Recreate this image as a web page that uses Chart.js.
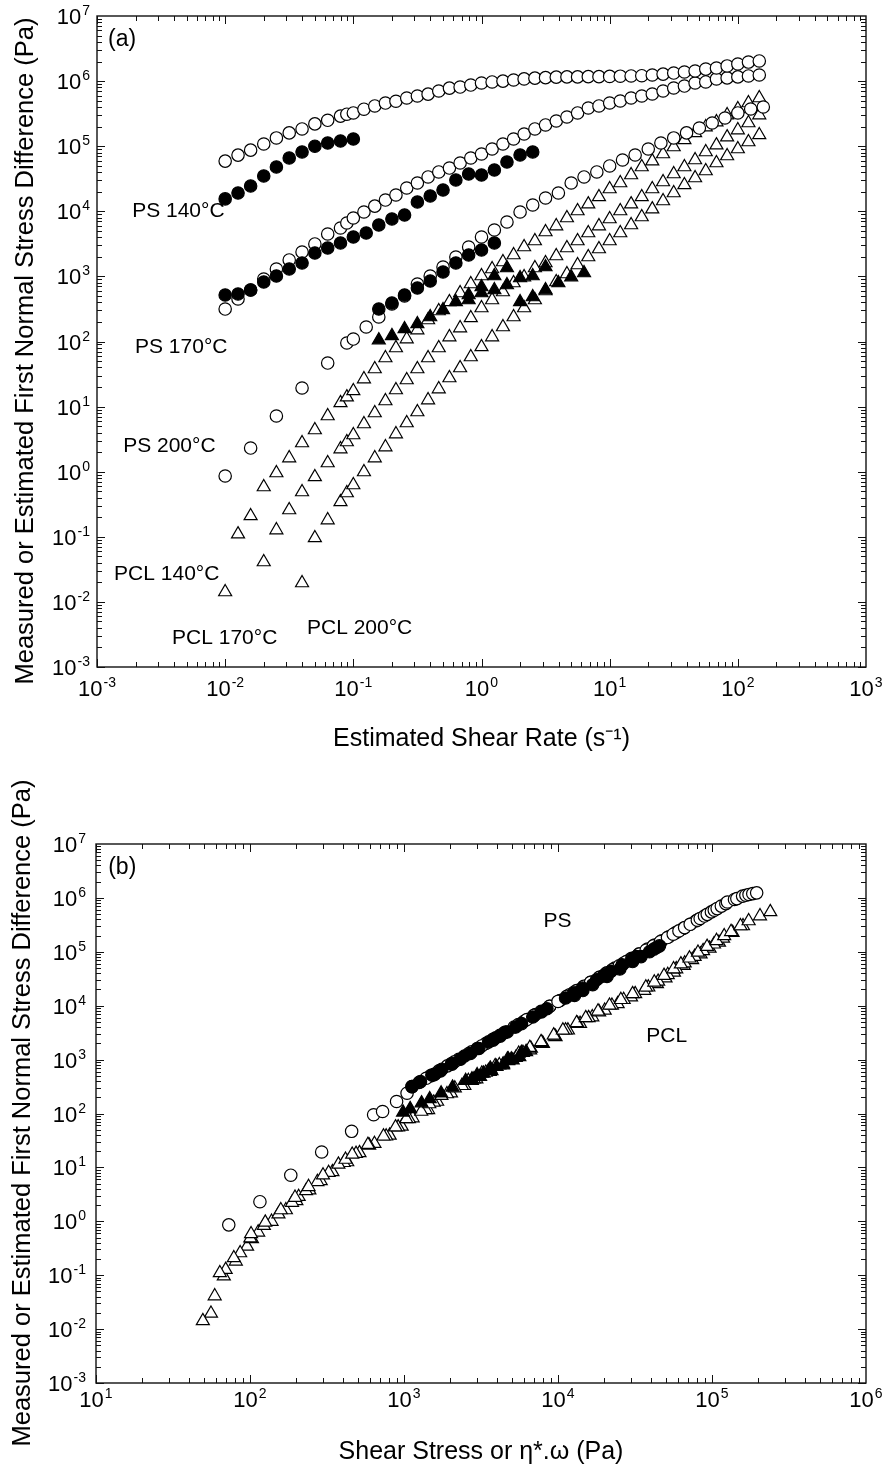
<!DOCTYPE html>
<html>
<head>
<meta charset="utf-8">
<script src="https://cdn.jsdelivr.net/npm/chart.js"></script>
<style>
  body { margin: 0; background: #fff; }
  canvas { display: block; }
</style>
</head>
<body>
<canvas id="rateChart" width="883" height="770"></canvas>
<canvas id="stressChart" width="883" height="699"></canvas>
<script>
// ---- (a) shear rate grid (s^-1), shared by the long series ----
const rateA = [0.01, 0.0126, 0.0158, 0.02, 0.0251, 0.0316, 0.0398, 0.0501, 0.0631, 0.0794, 0.089, 0.1,
  0.121, 0.147, 0.178, 0.215, 0.261, 0.316, 0.383, 0.464, 0.562, 0.681, 0.825, 1.0,
  1.21, 1.47, 1.78, 2.15, 2.61, 3.16, 3.83, 4.64, 5.62, 6.81, 8.25, 10,
  12.1, 14.7, 17.8, 21.5, 26.1, 31.6, 38.3, 46.4, 56.2, 68.1, 82.5, 100, 121, 147];
const rateTenth = [0.01, 0.0126, 0.0158, 0.02, 0.0251, 0.0316, 0.0398, 0.0501, 0.0631, 0.0794, 0.1,
  0.126, 0.158, 0.2, 0.251, 0.316, 0.398, 0.501, 0.631, 0.794, 1.0, 1.26, 1.58, 2.0, 2.51];
const ps200Rate = [0.01, 0.0158, 0.0251, 0.0398, 0.0631, 0.089, 0.1, 0.126, 0.158, 0.2, 0.251, 0.316, 0.398,
  0.501, 0.631, 0.794, 1.0, 1.26, 1.58, 2.0, 2.51, 3.16, 3.98, 5.01, 6.31, 7.94, 10, 12.6, 15.8, 20, 25.1,
  31.6, 39.8, 50.1, 63.1, 79.4, 100, 126, 158];
const ps140FilledRate = [0.01, 0.0126, 0.0158, 0.02, 0.0251, 0.0316, 0.0398, 0.0501, 0.0631, 0.0794, 0.1];
const ps200FilledRate = [0.158, 0.2, 0.251, 0.316, 0.398, 0.501, 0.631, 0.794, 1.0, 1.26];
const pcl140FilledRate = [0.158, 0.2, 0.251, 0.316, 0.398, 0.501, 0.631, 0.794, 1.0, 1.26, 1.58];
const pcl170FilledRate = [0.794, 1.0, 1.26, 1.58, 2.0, 2.51, 3.16];
const pcl200FilledRate = [2.0, 2.51, 3.16, 3.98, 5.01, 6.31];

// ---- first normal stress difference N1 (Pa) ----
const ps140Open = [5.9e4, 7.3e4, 8.7e4, 1.08e5, 1.34e5, 1.6e5, 1.84e5, 2.2e5, 2.5e5, 2.9e5, 3.1e5, 3.24e5,
  3.7e5, 4.15e5, 4.6e5, 4.9e5, 5.5e5, 5.9e5, 6.3e5, 7.05e5, 7.8e5, 8.1e5, 8.7e5, 9.35e5,
  9.7e5, 1.0e6, 1.04e6, 1.08e6, 1.11e6, 1.13e6, 1.15e6, 1.16e6, 1.16e6, 1.17e6, 1.17e6, 1.18e6,
  1.19e6, 1.2e6, 1.21e6, 1.24e6, 1.28e6, 1.33e6, 1.38e6, 1.43e6, 1.53e6, 1.59e6, 1.71e6, 1.83e6, 1.96e6, 2.04e6];
const ps140Filled = [1.55e4, 1.91e4, 2.45e4, 3.49e4, 4.8e4, 6.6e4, 8.15e4, 1.0e5, 1.12e5, 1.2e5, 1.29e5];
const ps170Open = [315, 450, 618, 912, 1300, 1790, 2370, 3150, 4480, 5540, 6610, 7890,
  9750, 1.2e4, 1.49e4, 1.78e4, 2.28e4, 2.72e4, 3.37e4, 4.02e4, 4.62e4, 5.52e4, 6.59e4, 7.59e4,
  9.06e4, 1.08e5, 1.29e5, 1.54e5, 1.84e5, 2.12e5, 2.44e5, 2.81e5, 3.24e5, 3.86e5, 4.15e5, 4.61e5,
  4.95e5, 5.5e5, 5.9e5, 6.34e5, 7.05e5, 7.83e5, 8.4e5, 9.35e5, 9.7e5, 1.08e6, 1.12e6, 1.16e6, 1.2e6, 1.24e6];
const ps170Filled = [518, 537, 618, 820, 1014, 1300, 1607, 2287, 2730, 3260, 4030, 4640, 6160,
  7620, 8770, 1.39e4, 1.72e4, 2.12e4, 3.03e4, 3.74e4, 3.61e4, 4.31e4, 5.72e4, 7.33e4, 8.15e4];
const ps200Open = [0.859, 2.31, 7.17, 19.3, 46.7, 94.9, 109, 167, 238, 377, 500, 764, 1014,
  1394, 1986, 2830, 4030, 5160, 6850, 9750, 1.25e4, 1.6e4, 1.91e4, 2.72e4, 3.37e4, 4.02e4, 4.97e4,
  6.14e4, 7.33e4, 9.06e4, 1.12e5, 1.34e5, 1.6e5, 1.9e5, 2.27e5, 2.71e5, 3.24e5, 3.73e5, 4.0e5];
const ps200Filled = [315, 390, 518, 663, 849, 1169, 1607, 2133, 2545, 3260];
const pcl140Open = [0.0142, 0.11, 0.209, 0.582, 0.955, 1.62, 2.76, 4.37, 7.17, 11.4, 14.0, 17.4,
  26.5, 37.8, 55.8, 79.4, 109, 150, 214, 294, 405, 556, 764, 1014,
  1300, 1664, 2133, 2830, 3500, 4810, 5940, 7890, 1.01e4, 1.29e4, 1.66e4, 2.2e4,
  2.72e4, 3.61e4, 4.79e4, 5.9e4, 7.59e4, 9.72e4, 1.25e5, 1.6e5, 1.97e5, 2.35e5, 3.01e5, 3.73e5, 4.61e5, 5.5e5];
const pcl170Open = [0.041, 0.127, 0.258, 0.488, 0.83, 1.36, 2.23, 2.86, 3.66,
  5.4, 7.98, 12.2, 18.0, 25.6, 37.8, 55.8, 79.4, 117, 161, 230, 327,
  434, 576, 792, 977, 1346, 1607, 2056, 2730, 3500, 4640, 5940, 7620,
  1.01e4, 1.29e4, 1.66e4, 2.2e4, 2.82e4, 3.74e4, 4.79e4, 6.14e4, 8.15e4, 1.04e5, 1.38e5, 1.77e5, 2.27e5, 3.01e5];
const pcl200Open = [0.0195, 0.096, 0.181, 0.343, 0.471, 0.625,
  0.99, 1.62, 2.39, 3.79, 5.6, 8.26, 12.6, 18.6, 27.5, 39.2, 57.8, 82.4,
  117, 167, 238, 327, 434, 597, 820, 1089, 1496, 1986, 2636, 3500,
  4640, 6160, 8170, 1.08e4, 1.44e4, 1.91e4, 2.54e4, 3.25e4, 4.16e4, 5.52e4, 7.07e4, 9.06e4, 1.16e5, 1.49e5];
const pcl140Filled = [105, 122, 156, 186, 238, 305, 405, 518, 687, 1014, 1346];
const pcl170Filled = [434, 556, 618, 738, 945, 1014, 1394];
const pcl200Filled = [405, 483, 618, 792, 977, 1127];

// ---- (b) shear stress or eta*.omega (Pa) for the same points ----
const ps170OpenStress = [1127, 1394, 1687, 2128, 2636, 3189, 3776, 4477, 5534, 6281, 6982, 7776,
  8831, 1.0e4, 1.14e4, 1.27e4, 1.47e4, 1.63e4, 1.86e4, 2.07e4, 2.25e4, 2.5e4, 2.78e4, 3.02e4,
  3.36e4, 3.74e4, 4.16e4, 4.62e4, 5.14e4, 5.6e4, 6.1e4, 6.64e4, 7.22e4, 8.03e4, 8.38e4, 8.93e4,
  9.31e4, 9.91e4, 1.035e5, 1.08e5, 1.15e5, 1.23e5, 1.26e5, 1.4e5, 1.45e5, 1.58e5, 1.66e5, 1.74e5, 1.84e5, 1.95e5];
const ps200OpenStress = [72.8, 116, 184, 292, 457, 635, 726, 895, 1047, 1253, 1486, 1915, 2270,
  2748, 3399, 4205, 5193, 6026, 7145, 8831, 1.03e4, 1.19e4, 1.32e4, 1.63e4, 1.86e4, 2.07e4, 2.34e4,
  2.66e4, 2.96e4, 3.36e4, 3.82e4, 4.25e4, 4.72e4, 5.25e4, 5.83e4, 6.49e4, 7.22e4, 7.85e4, 8.2e4];
const ps140FilledStress = [1.28e4, 1.45e4, 1.68e4, 2.08e4, 2.52e4, 3.05e4, 3.46e4, 3.93e4, 4.19e4, 4.37e4, 4.56e4];
const ps170FilledStress = [1552, 1585, 1726, 2046, 2323, 2698, 3062, 3784, 4207, 4677, 5309, 5794, 6855,
  7798, 8472, 1.12e4, 1.27e4, 1.44e4, 1.78e4, 2.02e4, 1.98e4, 2.2e4, 2.61e4, 3.03e4, 3.23e4];
const ps200FilledStress = [1127, 1279, 1517, 1762, 2042, 2472, 2992, 3548, 3945, 4571];
const pcl140OpenStress = [49.4, 63.7, 78.5, 101.6, 125.6, 158.5, 196, 240, 298, 375, 417, 461,
  583, 736, 881, 1035, 1294, 1459, 1750, 2138, 2618, 3199, 3908, 4699,
  5559, 6561, 7762, 9376, 1.076e4, 1.321e4, 1.514e4, 1.82e4, 2.16e4, 2.56e4, 3.05e4, 3.72e4,
  4.22e4, 4.88e4, 5.63e4, 6.28e4, 7.14e4, 8.11e4, 9.29e4, 1.07e5, 1.2e5, 1.33e5, 1.53e5, 1.73e5, 2.05e5, 2.39e5];
const pcl170OpenStress = [59, 69.5, 86.3, 100.5, 123, 153, 187.5, 207, 231,
  274, 324, 406, 488, 594, 766, 916, 1076, 1384, 1560, 1901, 2377,
  2844, 3396, 4159, 4775, 5916, 6668, 7870, 9528, 1.12e4, 1.34e4, 1.58e4, 1.85e4,
  2.24e4, 2.67e4, 3.17e4, 3.86e4, 4.47e4, 5.16e4, 5.86e4, 6.65e4, 7.71e4, 8.75e4, 1.03e5, 1.18e5, 1.36e5, 1.59e5];
const pcl200OpenStress = [55.8, 67.6, 80.9, 95.7, 103, 113,
  138, 171, 200, 243, 288, 343, 428, 514, 643, 807, 966, 1138,
  1435, 1641, 2018, 2466, 2951, 3606, 4406, 5321, 6592, 7980, 9638, 1.16e4,
  1.39e4, 1.67e4, 2.01e4, 2.44e4, 2.98e4, 3.63e4, 4.39e4, 4.99e4, 5.66e4, 6.55e4, 7.43e4, 8.43e4, 9.64e4, 1.11e5];
const pcl140FilledStress = [986, 1096, 1300, 1469, 1742, 2065, 2515, 2985, 3631, 4753, 5781];
const pcl170FilledStress = [2761, 3281, 3532, 3990, 4742, 4977, 6209];
const pcl200FilledStress = [2761, 3119, 3698, 4395, 5082, 5610];

// axis decades
const rateTicks = [1e-3, 1e-2, 1e-1, 1, 10, 100, 1000];
const stressTicks = [10, 100, 1e3, 1e4, 1e5, 1e6];
const n1Ticks = [1e-3, 1e-2, 1e-1, 1, 10, 100, 1e3, 1e4, 1e5, 1e6, 1e7];

const yTitle = 'Measured or Estimated First Normal Stress Difference (Pa)';

// text labels inside the plots (data coordinates)
const notesA = [
  { text: '(a)', x: 0.00122, y: 4.4e6, big: true },
  { text: 'PS 140°C', x: 0.00188, y: 1e4 },
  { text: 'PS 170°C', x: 0.00198, y: 82 },
  { text: 'PS 200°C', x: 0.0016, y: 2.48 },
  { text: 'PCL 140°C', x: 0.00136, y: 0.027 },
  { text: 'PCL 170°C', x: 0.00385, y: 0.0028 },
  { text: 'PCL 200°C', x: 0.0435, y: 0.004 },
];
const notesB = [
  { text: '(b)', x: 12, y: 3.6e6, big: true },
  { text: 'PS', x: 8040, y: 3.7e5 },
  { text: 'PCL', x: 3.74e4, y: 2740 },
];

const FONT = '"Liberation Sans", Arial, Helvetica, sans-serif';
Chart.defaults.font.family = FONT;
Chart.defaults.color = '#000';

function exponentOf(v) {
  return String(Math.round(Math.log10(v)));
}

function pts(xs, ys) {
  return xs.map((x, i) => ({ x: x, y: ys[i] }));
}

function series(label, xs, ys, shape, filled) {
  return {
    label: label,
    data: pts(xs, ys),
    pointStyle: shape,
    pointRadius: shape === 'triangle' ? 7.5 : 6.2,
    pointBorderWidth: 1.2,
    pointBorderColor: '#000',
    pointBackgroundColor: filled ? '#000' : '#fff',
    order: filled ? 0 : 1,
  };
}

// box with inward major/minor ticks on all four sides
const frameTicks = {
  id: 'frameTicks',
  afterDatasetsDraw(chart) {
    const { ctx, chartArea: a, scales } = chart;
    const x = scales.x, y = scales.y;
    ctx.save();
    ctx.strokeStyle = '#111';
    ctx.lineWidth = 1;
    ctx.beginPath();
    for (let e = Math.round(Math.log10(x.min)); e < Math.round(Math.log10(x.max)); e++) {
      for (let k = 1; k <= 9; k++) {
        const px = Math.round(x.getPixelForValue(k * Math.pow(10, e))) + 0.5;
        const len = k === 1 ? 8 : 5;
        ctx.moveTo(px, a.top); ctx.lineTo(px, a.top + len);
        ctx.moveTo(px, a.bottom); ctx.lineTo(px, a.bottom - len);
      }
    }
    for (let e = Math.round(Math.log10(y.min)); e < Math.round(Math.log10(y.max)); e++) {
      for (let k = 1; k <= 9; k++) {
        const py = Math.round(y.getPixelForValue(k * Math.pow(10, e))) + 0.5;
        const len = k === 1 ? 8 : 5;
        ctx.moveTo(a.left, py); ctx.lineTo(a.left + len, py);
        ctx.moveTo(a.right, py); ctx.lineTo(a.right - len, py);
      }
    }
    ctx.stroke();
    ctx.lineWidth = 1.4;
    ctx.strokeRect(a.left, a.top, a.right - a.left, a.bottom - a.top);
    ctx.restore();
  }
};

// decade labels "10" with a raised exponent
function drawPower(ctx, v, x, baseline, align) {
  const exp = exponentOf(v);
  ctx.font = '22px ' + FONT;
  const wMain = ctx.measureText('10').width;
  ctx.font = '14px ' + FONT;
  const wExp = ctx.measureText(exp).width;
  const total = wMain + wExp + 1;
  const left = align === 'right' ? x - total : x - total / 2;
  ctx.textAlign = 'left';
  ctx.textBaseline = 'alphabetic';
  ctx.font = '22px ' + FONT;
  ctx.fillText('10', left, baseline);
  ctx.font = '14px ' + FONT;
  ctx.fillText(exp, left + wMain + 1, baseline - 9);
}

// plot labels, tick labels and rotated y title (Chart.js would squeeze it to the axis height)
const textLayer = {
  id: 'textLayer',
  afterDraw(chart, args, opts) {
    const { ctx, chartArea: a, scales } = chart;
    ctx.save();
    ctx.fillStyle = '#000';
    scales.x.ticks.forEach(t => {
      drawPower(ctx, t.value, scales.x.getPixelForValue(t.value), a.bottom + opts.xLabelGap, 'center');
    });
    scales.y.ticks.forEach(t => {
      drawPower(ctx, t.value, a.left - opts.yLabelGap, scales.y.getPixelForValue(t.value) + 8, 'right');
    });
    ctx.textBaseline = 'middle';
    ctx.textAlign = 'left';
    opts.notes.forEach(n => {
      ctx.font = (n.big ? 23 : 21) + 'px ' + FONT;
      ctx.fillText(n.text, scales.x.getPixelForValue(n.x), scales.y.getPixelForValue(n.y));
    });
    ctx.translate(opts.titleX, opts.titleY);
    ctx.rotate(-Math.PI / 2);
    ctx.textAlign = 'center';
    ctx.font = '25.5px ' + FONT;
    ctx.fillText(yTitle, 0, 0);
    ctx.restore();
  }
};

function logAxis(min, max, ticks, fitSize, horizontal, title, titlePad) {
  const ax = {
    type: 'logarithmic',
    min: min,
    max: max,
    position: horizontal ? 'bottom' : 'left',
    afterBuildTicks: s => { s.ticks = ticks.map(v => ({ value: v })); },
    afterFit: s => { if (horizontal) s.height = fitSize; else s.width = fitSize; },
    grid: { display: false, drawTicks: false },
    border: { display: false },
    ticks: { display: false, autoSkip: false },
  };
  if (title) {
    ax.title = { display: true, text: title, font: { size: 25 }, padding: { top: 0, bottom: titlePad } };
  }
  return ax;
}

new Chart(document.getElementById('rateChart'), {
  type: 'scatter',
  data: {
    datasets: [
      series('PS 140 open', rateA, ps140Open, 'circle', false),
      series('PS 170 open', rateA, ps170Open, 'circle', false),
      series('PS 200 open', ps200Rate, ps200Open, 'circle', false),
      series('PCL 140 open', rateA, pcl140Open, 'triangle', false),
      series('PCL 170 open', rateA.slice(3), pcl170Open, 'triangle', false),
      series('PCL 200 open', rateA.slice(6), pcl200Open, 'triangle', false),
      series('PS 140 filled', ps140FilledRate, ps140Filled, 'circle', true),
      series('PS 170 filled', rateTenth, ps170Filled, 'circle', true),
      series('PS 200 filled', ps200FilledRate, ps200Filled, 'circle', true),
      series('PCL 140 filled', pcl140FilledRate, pcl140Filled, 'triangle', true),
      series('PCL 170 filled', pcl170FilledRate, pcl170Filled, 'triangle', true),
      series('PCL 200 filled', pcl200FilledRate, pcl200Filled, 'triangle', true),
    ]
  },
  options: {
    responsive: false,
    animation: false,
    events: [],
    layout: { padding: { top: 16, right: 17, left: 0, bottom: 0 } },
    scales: {
      x: logAxis(1e-3, 1e3, rateTicks, 103, true, 'Estimated Shear Rate (s\u207B\u00B9)', 16),
      y: logAxis(1e-3, 1e7, n1Ticks, 97, false),
    },
    plugins: {
      legend: { display: false },
      tooltip: { enabled: false },
      textLayer: { notes: notesA, titleX: 26, titleY: 351, xLabelGap: 29, yLabelGap: 7 },
    }
  },
  plugins: [frameTicks, textLayer]
});

new Chart(document.getElementById('stressChart'), {
  type: 'scatter',
  data: {
    datasets: [
      series('PS 170 open', ps170OpenStress, ps170Open, 'circle', false),
      series('PS 200 open', ps200OpenStress, ps200Open, 'circle', false),
      series('PCL 140 open', pcl140OpenStress, pcl140Open, 'triangle', false),
      series('PCL 170 open', pcl170OpenStress, pcl170Open, 'triangle', false),
      series('PCL 200 open', pcl200OpenStress, pcl200Open, 'triangle', false),
      series('PS 140 filled', ps140FilledStress, ps140Filled, 'circle', true),
      series('PS 170 filled', ps170FilledStress, ps170Filled, 'circle', true),
      series('PS 200 filled', ps200FilledStress, ps200Filled, 'circle', true),
      series('PCL 140 filled', pcl140FilledStress, pcl140Filled, 'triangle', true),
      series('PCL 170 filled', pcl170FilledStress, pcl170Filled, 'triangle', true),
      series('PCL 200 filled', pcl200FilledStress, pcl200Filled, 'triangle', true),
    ]
  },
  options: {
    responsive: false,
    animation: false,
    events: [],
    layout: { padding: { top: 74, right: 17, left: 0, bottom: 0 } },
    scales: {
      x: logAxis(10, 1e6, stressTicks, 86, true, 'Shear Stress or \u03B7*.\u03C9 (Pa)', 2),
      y: logAxis(1e-3, 1e7, n1Ticks, 96, false),
    },
    plugins: {
      legend: { display: false },
      tooltip: { enabled: false },
      textLayer: { notes: notesB, titleX: 23, titleY: 343, xLabelGap: 24, yLabelGap: 10 },
    }
  },
  plugins: [frameTicks, textLayer]
});
</script>
</body>
</html>
